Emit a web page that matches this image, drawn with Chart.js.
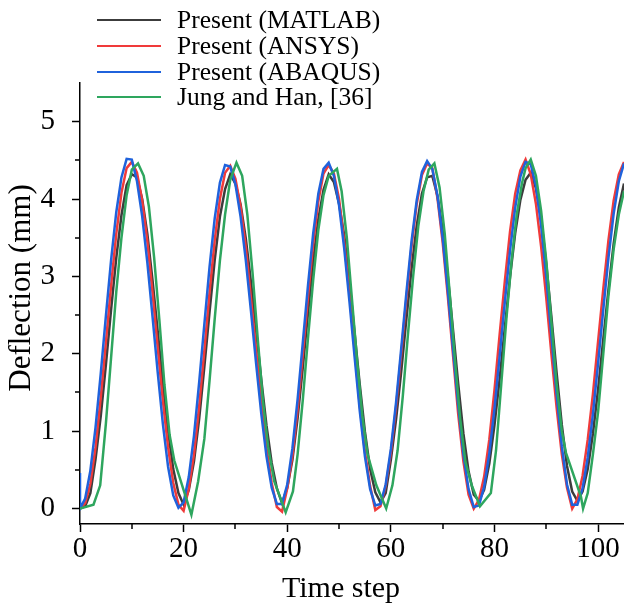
<!DOCTYPE html>
<html>
<head>
<meta charset="utf-8">
<script src="https://cdn.jsdelivr.net/npm/chart.js@4/dist/chart.umd.min.js"></script>
<style>
  html, body { margin: 0; padding: 0; background: #fff; overflow: hidden; }
  #wrap { width: 624px; height: 603px; }
</style>
</head>
<body>
<div id="wrap"><canvas id="chart" width="624" height="603"></canvas></div>
<script>
// time steps shared by the three "Present" series
const steps = [
  0, 1, 2, 3, 4, 5, 6, 7, 8, 9, 10, 11, 12, 13, 14, 15, 16, 17, 18, 19,
  20, 21, 22, 23, 24, 25, 26, 27, 28, 29, 30, 31, 32, 33, 34, 35, 36, 37, 38, 39,
  40, 41, 42, 43, 44, 45, 46, 47, 48, 49, 50, 51, 52, 53, 54, 55, 56, 57, 58, 59,
  60, 61, 62, 63, 64, 65, 66, 67, 68, 69, 70, 71, 72, 73, 74, 75, 76, 77, 78, 79,
  80, 81, 82, 83, 84, 85, 86, 87, 88, 89, 90, 91, 92, 93, 94, 95, 96, 97, 98, 99,
  100, 101, 102, 103, 104, 105
];

const matlab = [
  0, 0.03, 0.2, 0.64, 1.19, 1.86, 2.57, 3.24, 3.79, 4.18, 4.32, 4.28, 4.0, 3.55, 2.95, 2.29, 1.61, 1.0, 0.51, 0.2,
  0.05, 0.24, 0.61, 1.16, 1.83, 2.54, 3.21, 3.77, 4.13, 4.32, 4.2, 3.93, 3.49, 2.93, 2.3, 1.66, 1.07, 0.59, 0.26, 0.07,
  0.27, 0.63, 1.17, 1.82, 2.52, 3.19, 3.74, 4.12, 4.32, 4.22, 3.94, 3.53, 2.94, 2.27, 1.6, 0.99, 0.51, 0.21, 0.08, 0.2,
  0.63, 1.15, 1.77, 2.45, 3.1, 3.66, 4.07, 4.28, 4.3, 4.04, 3.6, 3.0, 2.31, 1.61, 0.97, 0.48, 0.18, 0.1, 0.24, 0.58,
  1.08, 1.68, 2.34, 2.99, 3.56, 3.99, 4.25, 4.34, 4.14, 3.74, 3.16, 2.47, 1.75, 1.08, 0.55, 0.22, 0.1, 0.22, 0.51, 0.97,
  1.54, 2.19, 2.83, 3.42, 3.89, 4.2
];

const ansys = [
  0, 0.07, 0.32, 0.79, 1.43, 2.15, 2.88, 3.55, 4.08, 4.4, 4.48, 4.34, 3.98, 3.45, 2.79, 2.08, 1.39, 0.79, 0.33, 0.05,
  -0.03, 0.26, 0.7, 1.32, 2.04, 2.79, 3.47, 4.0, 4.34, 4.43, 4.26, 3.9, 3.38, 2.72, 2.04, 1.38, 0.78, 0.33, 0.02, -0.04,
  0.26, 0.68, 1.28, 1.99, 2.73, 3.42, 3.97, 4.33, 4.44, 4.33, 4.0, 3.44, 2.78, 2.06, 1.33, 0.73, 0.29, -0.02, 0.03, 0.29,
  0.72, 1.31, 2.0, 2.72, 3.39, 3.94, 4.31, 4.46, 4.4, 4.01, 3.44, 2.74, 1.98, 1.22, 0.61, 0.18, 0.0, 0.11, 0.41, 0.89,
  1.53, 2.25, 2.94, 3.58, 4.07, 4.37, 4.51, 4.32, 3.94, 3.39, 2.72, 1.99, 1.3, 0.7, 0.27, 0.0, 0.12, 0.42, 0.89, 1.48,
  2.16, 2.84, 3.47, 3.98, 4.32, 4.48
];

// ABAQUS curve starts with a short drop at step 0
const abaqusStart = 0.46;
const abaqus = [
  0, 0.13, 0.49, 1.05, 1.74, 2.49, 3.21, 3.83, 4.28, 4.52, 4.51, 4.23, 3.78, 3.18, 2.48, 1.76, 1.09, 0.54, 0.17, 0.01,
  0.08, 0.41, 0.94, 1.63, 2.38, 3.12, 3.75, 4.21, 4.44, 4.42, 4.19, 3.77, 3.21, 2.55, 1.87, 1.22, 0.67, 0.27, 0.06, 0.06,
  0.31, 0.78, 1.41, 2.14, 2.88, 3.55, 4.07, 4.39, 4.47, 4.3, 3.92, 3.36, 2.68, 1.96, 1.26, 0.67, 0.25, 0.04, 0.06, 0.31,
  0.77, 1.37, 2.07, 2.79, 3.46, 3.99, 4.35, 4.49, 4.39, 4.04, 3.5, 2.81, 2.06, 1.33, 0.7, 0.25, 0.02, 0.04, 0.28, 0.71,
  1.29, 1.97, 2.67, 3.33, 3.89, 4.29, 4.48, 4.45, 4.17, 3.66, 2.98, 2.22, 1.47, 0.8, 0.31, 0.05, 0.05, 0.26, 0.66, 1.22,
  1.88, 2.57, 3.24, 3.81, 4.23, 4.46
];

// Jung and Han, [36] - digitised at irregular steps
const jungSteps = [
  0, 2.6, 3.9, 5, 6, 7, 8, 9, 10, 11.2,
  12.3, 13.3, 14.3, 15.3, 16.3, 17.3, 18.2, 21.5, 22.8, 24,
  25, 26, 27, 28, 29, 30.2, 31.3, 32.3, 33.3, 34.3,
  35.3, 36.3, 37.5, 39.7, 41.1, 42, 43, 44, 45, 46,
  47, 48, 49.6, 50.5, 51.5, 52.5, 53.5, 54.5, 55.5, 57.2,
  59.1, 60.3, 61.3, 62.3, 63.3, 64.3, 65.3, 66.3, 67.3, 68.4,
  69.4, 70.4, 71.4, 72.4, 73.4, 74.4, 75.6, 77.2, 79.3, 80.3,
  81.3, 82.3, 83.3, 84.3, 85.3, 86, 87, 88, 89, 90,
  91, 92, 93, 93.8, 96.7, 97.1, 98, 99, 100, 101,
  102, 103, 104, 105
];
const jungValues = [
  0, 0.05, 0.3, 1.1, 1.95, 2.8, 3.5, 4.05, 4.38, 4.46,
  4.3, 3.9, 3.25, 2.45, 1.6, 0.95, 0.62, -0.08, 0.35, 0.9,
  1.65, 2.45, 3.2, 3.8, 4.25, 4.47, 4.3, 3.8, 3.05, 2.2,
  1.4, 0.8, 0.35, -0.05, 0.22, 0.7, 1.4, 2.2, 2.95, 3.6,
  4.05, 4.3, 4.39, 4.1, 3.5, 2.7, 1.9, 1.2, 0.7, 0.3,
  0.0, 0.3, 0.75, 1.45, 2.25, 3.0, 3.65, 4.1, 4.38, 4.46,
  4.15, 3.55, 2.75, 1.9, 1.15, 0.6, 0.3, 0.03, 0.2, 0.75,
  1.6, 2.45, 3.2, 3.8, 4.2, 4.4, 4.51, 4.3, 3.85, 3.2,
  2.4, 1.6, 1.0, 0.72, 0.15, 0.0, 0.2, 0.7, 1.25, 2.0,
  2.75, 3.35, 3.8, 4.1
];

const xTicks = [0, 20, 40, 60, 80, 100];
const xMinor = [10, 30, 50, 70, 90];
const yTicks = [0, 1, 2, 3, 4, 5];
const yMinor = [0.5, 1.5, 2.5, 3.5, 4.5];

const serif = 'Liberation Serif';

function toPoints(xs, ys) {
  return ys.map((v, i) => ({ x: xs[i], y: v }));
}

// minor tick marks, drawn on the chart's own scales
const minorTicks = {
  id: 'minorTicks',
  afterDraw(chart) {
    const { ctx, scales: { x, y } } = chart;
    ctx.save();
    ctx.strokeStyle = '#000';
    ctx.lineWidth = 1.5;
    xMinor.forEach(v => {
      const px = Math.round(x.getPixelForValue(v));
      ctx.beginPath();
      ctx.moveTo(px, x.top);
      ctx.lineTo(px, x.top + 5);
      ctx.stroke();
    });
    yMinor.forEach(v => {
      const py = Math.round(y.getPixelForValue(v));
      ctx.beginPath();
      ctx.moveTo(y.right, py);
      ctx.lineTo(y.right - 5, py);
      ctx.stroke();
    });
    ctx.restore();
  }
};

// legend in the upper-left corner and axis titles placed as in the original figure
const cornerLegend = {
  id: 'cornerLegend',
  afterDraw(chart) {
    const { ctx } = chart;
    const rows = [20, 46, 72, 97];
    ctx.save();
    ctx.font = '25.5px "' + serif + '"';
    ctx.textBaseline = 'middle';
    ctx.fillStyle = '#000';
    chart.data.datasets.forEach((ds, i) => {
      const yy = rows[i];
      ctx.strokeStyle = ds.borderColor;
      ctx.lineWidth = 2;
      ctx.beginPath();
      ctx.moveTo(97, yy);
      ctx.lineTo(161, yy);
      ctx.stroke();
      ctx.fillText(ds.label, 177, yy + 1);
    });
    ctx.textAlign = 'center';
    ctx.font = '30px "' + serif + '"';
    ctx.fillText('Time step', 341, 589);
    ctx.translate(22, 288);
    ctx.rotate(-Math.PI / 2);
    ctx.font = '31px "' + serif + '"';
    ctx.fillText('Deflection (mm)', 0, 0);
    ctx.restore();
  }
};

const ds = (label, color, data, order) => ({
  label, data, order,
  borderColor: color,
  backgroundColor: color,
  borderWidth: 2.5,
  pointRadius: 0,
  tension: 0,
  fill: false
});

new Chart(document.getElementById('chart'), {
  type: 'line',
  data: {
    datasets: [
      ds('Present (MATLAB)', '#3c3c3c', toPoints(steps, matlab), 4),
      ds('Present (ANSYS)', '#f03a3a', toPoints(steps, ansys), 3),
      ds('Present (ABAQUS)', '#1f62dc', [{ x: 0, y: abaqusStart }].concat(toPoints(steps, abaqus)), 2),
      ds('Jung and Han, [36]', '#2ea65e', toPoints(jungSteps, jungValues), 1)
    ]
  },
  options: {
    responsive: false,
    animation: false,
    layout: { padding: { top: 83, right: 0, left: 0, bottom: 0 } },
    plugins: {
      legend: { display: false },
      tooltip: { enabled: false }
    },
    scales: {
      x: {
        type: 'linear',
        min: 0,
        max: 105,
        afterBuildTicks: s => { s.ticks = xTicks.map(v => ({ value: v })); },
        afterFit: s => { s.height = 79; },
        grid: { drawOnChartArea: false, drawTicks: true, tickLength: 8, tickColor: '#000', tickWidth: 1.5 },
        border: { color: '#000', width: 1.5 },
        ticks: { color: '#000', font: { family: serif, size: 29 }, padding: 0, maxRotation: 0, autoSkip: false },
        title: { display: false }
      },
      y: {
        type: 'linear',
        min: -0.2,
        max: 5.5,
        afterBuildTicks: s => { s.ticks = yTicks.map(v => ({ value: v })); },
        afterFit: s => { s.width = 80; },
        grid: { drawOnChartArea: false, drawTicks: true, tickLength: 8, tickColor: '#000', tickWidth: 1.5 },
        border: { color: '#000', width: 1.5 },
        ticks: { color: '#000', font: { family: serif, size: 29 }, padding: 17 },
        title: { display: false }
      }
    }
  },
  plugins: [minorTicks, cornerLegend]
});
</script>
</body>
</html>
